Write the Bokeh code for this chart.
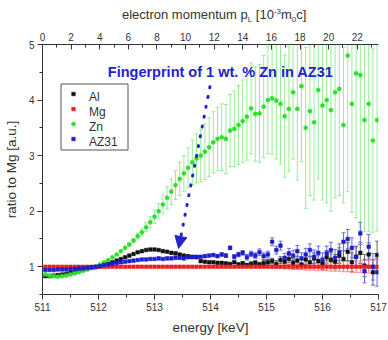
from bokeh.plotting import figure
from bokeh.layouts import column
from bokeh.models import (ColumnDataSource, Range1d, LinearAxis, SingleIntervalTicker,
                          Whisker, TeeHead, Arrow, NormalHead, Label, Legend, LegendItem, Div)
from bokeh.embed import file_html
from bokeh.resources import INLINE

# Energy channels [keV]
energy = [
    511.05, 511.125, 511.2, 511.275, 511.35, 511.425, 511.5, 511.575, 511.65, 511.725,
    511.8, 511.875, 511.95, 512.025, 512.1, 512.175, 512.25, 512.325, 512.4, 512.475,
    512.55, 512.625, 512.7, 512.775, 512.85, 512.925, 513.0, 513.075, 513.15, 513.225,
    513.3, 513.375, 513.45, 513.525, 513.6, 513.675, 513.75, 513.825, 513.9, 513.975,
    514.05, 514.125, 514.2, 514.275, 514.35, 514.425, 514.5, 514.575, 514.65, 514.725,
    514.8, 514.875, 514.95, 515.025, 515.1, 515.175, 515.25, 515.325, 515.4, 515.475,
    515.55, 515.625, 515.7, 515.775, 515.85, 515.925, 516.0, 516.075, 516.15, 516.225,
    516.3, 516.375, 516.45, 516.525, 516.6, 516.675, 516.75, 516.825, 516.9, 516.975,
]

# Ratio to Mg for each sample
al = [
    0.83, 0.83, 0.84, 0.85, 0.86, 0.87, 0.89, 0.90, 0.92, 0.94,
    0.96, 0.98, 0.99, 1.01, 1.03, 1.06, 1.08, 1.11, 1.14, 1.17,
    1.20, 1.23, 1.26, 1.28, 1.30, 1.31, 1.31, 1.30, 1.28, 1.27,
    1.25, 1.24, 1.22, 1.20, 1.19, 1.18, 1.17, 1.10, 1.09, 1.08,
    1.08, 1.07, 1.07, 1.06, 1.05, 1.08, 1.04, 1.06, 1.03, 1.05,
    1.07, 1.04, 1.06, 1.08, 1.10, 1.05, 1.12, 1.09, 1.14, 1.07,
    1.11, 1.04, 1.13, 1.08, 1.15, 1.10, 1.06, 1.17, 1.12, 1.09,
    1.20, 1.14, 1.27, 1.08, 1.18, 1.25, 1.02, 1.22, 0.90, 1.21,
]
al_err = [
    0.01, 0.01, 0.01, 0.01, 0.01, 0.01, 0.01, 0.01, 0.01, 0.01,
    0.01, 0.01, 0.01, 0.01, 0.01, 0.01, 0.01, 0.01, 0.01, 0.01,
    0.01, 0.01, 0.01, 0.01, 0.01, 0.01, 0.01, 0.01, 0.01, 0.01,
    0.01, 0.01, 0.01, 0.01, 0.01, 0.01, 0.01, 0.01, 0.01, 0.01,
    0.01, 0.01, 0.01, 0.01, 0.02, 0.02, 0.03, 0.03, 0.03, 0.04,
    0.04, 0.04, 0.05, 0.05, 0.05, 0.06, 0.06, 0.07, 0.07, 0.08,
    0.08, 0.09, 0.09, 0.10, 0.10, 0.11, 0.11, 0.12, 0.13, 0.13,
    0.14, 0.15, 0.16, 0.17, 0.18, 0.19, 0.20, 0.21, 0.23, 0.25,
]

mg = [1.0] * 80
mg_err = [
    0.01, 0.01, 0.01, 0.01, 0.01, 0.01, 0.01, 0.01, 0.01, 0.01,
    0.01, 0.01, 0.01, 0.01, 0.01, 0.01, 0.01, 0.01, 0.01, 0.01,
    0.01, 0.01, 0.01, 0.01, 0.01, 0.01, 0.01, 0.01, 0.01, 0.01,
    0.01, 0.01, 0.01, 0.01, 0.01, 0.01, 0.01, 0.01, 0.01, 0.01,
    0.01, 0.01, 0.01, 0.01, 0.01, 0.01, 0.01, 0.01, 0.01, 0.01,
    0.01, 0.01, 0.01, 0.01, 0.01, 0.03, 0.03, 0.04, 0.04, 0.05,
    0.05, 0.05, 0.06, 0.06, 0.06, 0.07, 0.07, 0.07, 0.08, 0.08,
    0.08, 0.09, 0.09, 0.10, 0.10, 0.10, 0.11, 0.11, 0.12, 0.12,
]

zn = [
    0.86, 0.84, 0.83, 0.82, 0.83, 0.84, 0.86, 0.88, 0.90, 0.93,
    0.95, 0.98, 1.00, 1.04, 1.08, 1.12, 1.17, 1.22, 1.28, 1.34,
    1.40, 1.47, 1.55, 1.62, 1.71, 1.80, 1.90, 2.00, 2.12, 2.24,
    2.35, 2.47, 2.58, 2.68, 2.78, 2.88, 2.95, 3.00, 3.07, 3.15,
    3.24, 3.30, 3.33, 3.30, 3.45, 3.48, 3.55, 3.62, 3.70, 3.85,
    3.75, 3.76, 3.88, 4.00, 4.03, 3.99, 3.93, 3.71, 3.84, 4.14,
    3.84, 4.25, 3.50, 3.80, 3.60, 4.18, 3.90, 4.00, 3.82, 4.14,
    4.20, 3.55, 4.80, 3.93, 4.48, 4.45, 3.64, 3.93, 3.27, 3.64,
]
zn_err = [
    0.01, 0.01, 0.01, 0.01, 0.01, 0.01, 0.01, 0.01, 0.01, 0.01,
    0.01, 0.01, 0.01, 0.01, 0.01, 0.01, 0.01, 0.01, 0.01, 0.01,
    0.03, 0.04, 0.05, 0.06, 0.08, 0.10, 0.12, 0.14, 0.17, 0.20,
    0.23, 0.26, 0.30, 0.32, 0.36, 0.40, 0.44, 0.47, 0.50, 0.53,
    0.55, 0.57, 0.60, 0.62, 0.65, 0.68, 0.71, 0.74, 0.78, 0.82,
    0.85, 0.88, 0.92, 0.96, 1.00, 1.05, 1.08, 1.10, 1.12, 1.20,
    1.28, 1.36, 1.45, 1.52, 1.40, 1.60, 1.70, 1.85, 1.82, 1.90,
    1.92, 1.40, 2.45, 1.95, 2.60, 2.80, 2.00, 2.30, 1.65, 2.00,
]

az31 = [
    0.94, 0.94, 0.94, 0.95, 0.95, 0.95, 0.96, 0.96, 0.97, 0.97,
    0.98, 0.99, 1.00, 1.01, 1.03, 1.04, 1.05, 1.07, 1.08, 1.09,
    1.10, 1.11, 1.12, 1.13, 1.13, 1.14, 1.14, 1.15, 1.14, 1.15,
    1.15, 1.16, 1.16, 1.15, 1.17, 1.17, 1.18, 1.18, 1.19, 1.20,
    1.21, 1.19, 1.22, 1.20, 1.34, 1.18, 1.22, 1.25, 1.17, 1.23,
    1.20, 1.26, 1.19, 1.22, 1.45, 1.30, 1.38, 1.16, 1.24, 1.20,
    1.28, 1.15, 1.22, 1.30, 1.18, 1.25, 1.12, 1.24, 1.30, 1.16,
    1.26, 1.45, 1.50, 1.34, 1.18, 1.60, 0.92, 1.36, 1.00, 0.90,
]
az31_err = [
    0.01, 0.01, 0.01, 0.01, 0.01, 0.01, 0.01, 0.01, 0.01, 0.01,
    0.01, 0.01, 0.01, 0.01, 0.01, 0.01, 0.01, 0.01, 0.01, 0.01,
    0.01, 0.01, 0.01, 0.01, 0.01, 0.01, 0.01, 0.01, 0.01, 0.01,
    0.01, 0.01, 0.01, 0.01, 0.01, 0.01, 0.01, 0.01, 0.01, 0.01,
    0.02, 0.02, 0.03, 0.03, 0.03, 0.04, 0.04, 0.04, 0.05, 0.05,
    0.05, 0.06, 0.06, 0.06, 0.07, 0.07, 0.08, 0.08, 0.09, 0.09,
    0.10, 0.10, 0.11, 0.11, 0.12, 0.12, 0.13, 0.13, 0.14, 0.15,
    0.15, 0.16, 0.17, 0.18, 0.19, 0.20, 0.21, 0.22, 0.24, 0.25,
]

series_names = ["Al", "Mg", "Zn", "AZ31"]
marker_shapes = ["square", "square", "circle", "square"]
marker_sizes = [3.6, 3.6, 4.2, 3.6]
marker_colors = ["#111111", "#ee1c1c", "#2ee02e", "#1c1ccc"]
bar_colors = ["#666666", "#ff8080", "#9aec9a", "#6a6ae0"]

FONT = "Liberation Sans"
TEXT = "#333333"

E_MIN, E_MAX = 511.0, 517.0
Y_MIN, Y_MAX = 0.5, 5.0
FRAME_W, FRAME_H = 336, 250
# p_L = 2*(E - 511 keV)/(m0 c^2), in units of 1e-3 m0c
P_MAX = 2.0 * (E_MAX - E_MIN) / 511.0 * 1000.0


def px_to_x(px):
    """frame-relative pixel column -> energy"""
    return E_MIN + px / FRAME_W * (E_MAX - E_MIN)


def px_to_y(px):
    """frame-relative pixel row (from the top) -> ratio"""
    return Y_MAX - px / FRAME_H * (Y_MAX - Y_MIN)


# top-axis title with sub/superscripts
top_title = Div(
    text=("<span style=\"font-family:'Liberation Sans';font-size:13px;color:#333333;"
          "white-space:nowrap;line-height:1\">electron momentum p"
          "<span style=\"font-size:8px;position:relative;top:3px\">L</span>"
          " [10<span style=\"font-size:8px;position:relative;top:-5px\">-3</span>"
          "m<span style=\"font-size:8px;position:relative;top:3px\">0</span>c]</span>"),
    width=388, height=26, margin=0,
    styles={"padding-left": "122px", "padding-top": "7px", "box-sizing": "border-box",
            "background": "white"},
)

p = figure(frame_width=FRAME_W, frame_height=FRAME_H,
           x_range=Range1d(E_MIN, E_MAX), y_range=Range1d(Y_MIN, Y_MAX),
           output_backend="svg", toolbar_location=None, margin=0,
           min_border_left=40, min_border_right=12, min_border_top=18, min_border_bottom=46)
p.outline_line_color = None
p.xgrid.visible = False
p.ygrid.visible = False
p.background_fill_color = "white"
p.border_fill_color = "white"

# bottom axis: energy
xa = p.xaxis[0]
xa.ticker = SingleIntervalTicker(interval=1, num_minor_ticks=2)
xa.axis_label = "energy [keV]"
# left axis: ratio
ya = p.yaxis[0]
ya.ticker = SingleIntervalTicker(interval=1, num_minor_ticks=2)
ya.axis_label = "ratio to Mg [a.u.]"

for ax in (xa, ya):
    ax.axis_line_color = TEXT
    ax.major_tick_line_color = TEXT
    ax.minor_tick_line_color = TEXT
    ax.major_tick_in = 0
    ax.major_tick_out = 5
    ax.minor_tick_in = 0
    ax.minor_tick_out = 3
    ax.major_label_text_font = FONT
    ax.major_label_text_font_size = "10px"
    ax.major_label_text_color = TEXT
    ax.axis_label_text_font = FONT
    ax.axis_label_text_font_size = "13.5px"
    ax.axis_label_text_font_style = "normal"
    ax.axis_label_text_color = TEXT
    ax.major_label_standoff = 3
xa.axis_label_standoff = 6
ya.axis_label_standoff = 7

# top axis: electron momentum
p.extra_x_ranges = {"mom": Range1d(0, P_MAX)}
top = LinearAxis(x_range_name="mom", ticker=SingleIntervalTicker(interval=2, num_minor_ticks=2))
top.axis_line_color = TEXT
top.major_tick_line_color = TEXT
top.minor_tick_line_color = TEXT
top.major_tick_in = 5
top.major_tick_out = 0
top.minor_tick_in = 3
top.minor_tick_out = 0
top.major_label_text_font = FONT
top.major_label_text_font_size = "10px"
top.major_label_text_color = TEXT
top.major_label_standoff = 4
p.add_layout(top, "above")

values = [al, mg, zn, az31]

# error bars (only where visible)
for vals, errs, bc in [(zn, zn_err, bar_colors[2]), (al, al_err, bar_colors[0]),
                       (mg, mg_err, bar_colors[1]), (az31, az31_err, bar_colors[3])]:
    idx = [i for i, e in enumerate(errs) if e > 0.015]
    src = ColumnDataSource(dict(
        x=[energy[i] for i in idx],
        lo=[vals[i] - errs[i] for i in idx],
        hi=[vals[i] + errs[i] for i in idx],
    ))
    p.add_layout(Whisker(source=src, base="x", lower="lo", upper="hi", dimension="height",
                         line_color=bc, line_width=1,
                         lower_head=TeeHead(size=4, line_color=bc, line_width=1),
                         upper_head=TeeHead(size=4, line_color=bc, line_width=1)))

for vals, shp, sz, col in zip(values, marker_shapes, marker_sizes, marker_colors):
    p.scatter(energy, vals, marker=shp, size=sz, fill_color=col, line_color=col,
              line_width=0.5)

# legend: labels from Legend; frame and small keys drawn as glyphs around it
LEG_LEFT, LEG_TOP, LEG_RIGHT = 18, 39, 85   # px from the frame's left / top edge
LEG_PAD, LEG_ROW, LEG_GLYPH_W = 3, 15, 20
blank = [p.scatter([], [], marker=shp, fill_alpha=0, line_alpha=0) for shp in marker_shapes]
leg_h = LEG_ROW * len(series_names) + 2 * LEG_PAD
legend = Legend(items=[LegendItem(label=n, renderers=[r]) for n, r in zip(series_names, blank)],
                location=(LEG_LEFT, FRAME_H - LEG_TOP - leg_h))
legend.border_line_color = None
legend.background_fill_alpha = 0.0
legend.label_text_font = FONT
legend.label_text_font_size = "12px"
legend.label_text_color = TEXT
legend.glyph_width = LEG_GLYPH_W
legend.glyph_height = LEG_ROW
legend.label_height = LEG_ROW
legend.spacing = 0
legend.padding = LEG_PAD
legend.margin = 0
legend.label_standoff = 9
p.add_layout(legend)

p.quad(left=[px_to_x(LEG_LEFT + 0.5)], right=[px_to_x(LEG_RIGHT + 0.5)],
       top=[px_to_y(LEG_TOP + 0.5)], bottom=[px_to_y(LEG_TOP + leg_h + 0.5)],
       fill_alpha=0, line_color="#555555", line_width=1)

key_x = px_to_x(LEG_LEFT + LEG_PAD + LEG_GLYPH_W / 2)
key_y = [px_to_y(LEG_TOP + LEG_PAD + LEG_ROW * (i + 0.5)) for i in range(len(series_names))]
p.scatter([key_x] * len(series_names), key_y, marker=marker_shapes, size=marker_sizes,
          fill_color=marker_colors, line_color=marker_colors, line_width=0.5)

# annotation: fingerprint arrow
p.add_layout(Label(x=514.18, y=4.5, text="Fingerprint of 1 wt. % Zn in AZ31",
                   text_font=FONT, text_font_size="14.5px", text_font_style="bold",
                   text_color="#2323cc", text_align="center", text_baseline="middle"))
p.add_layout(Arrow(x_start=513.99, y_start=4.24, x_end=513.43, y_end=1.33,
                   line_color="#2323cc", line_width=3, line_dash="1 9", line_cap="round",
                   end=NormalHead(size=12, fill_color="#2323cc", line_color="#2323cc")))

layout = column(top_title, p, spacing=0, margin=0)
open("out.html", "w").write(file_html(layout, INLINE))
